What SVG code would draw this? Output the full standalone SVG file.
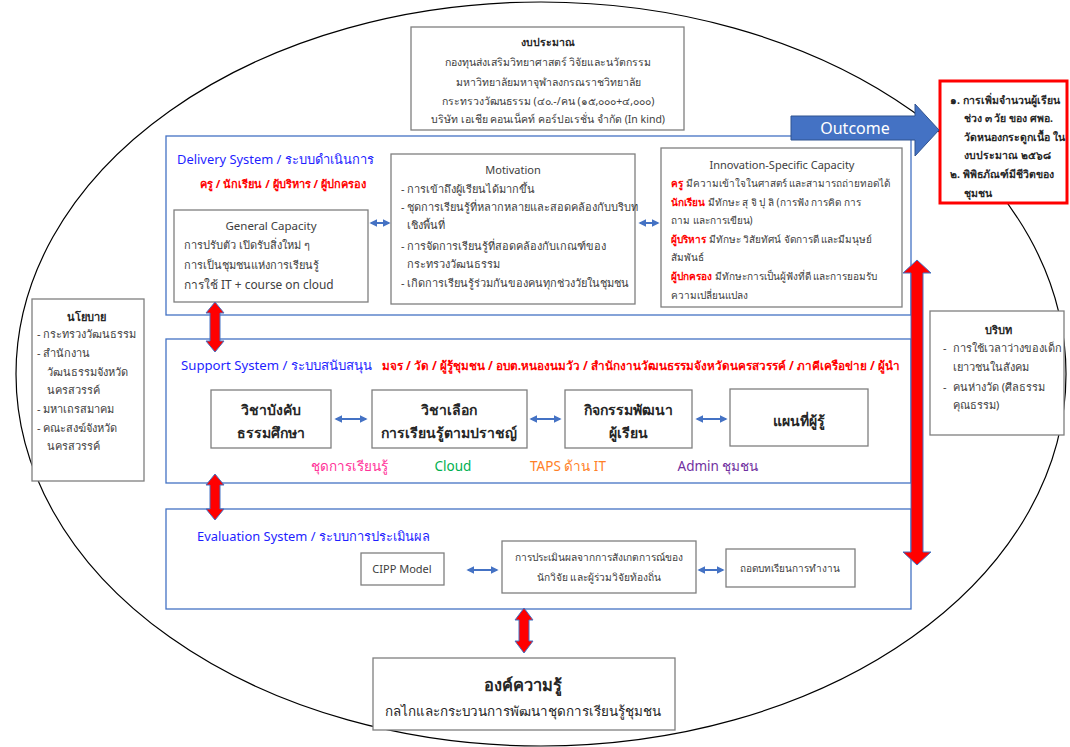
<svg xmlns="http://www.w3.org/2000/svg" width="1070" height="747" viewBox="0 0 1070 747">
<defs>
<style>
text{font-family:"Noto Sans","DejaVu Sans",sans-serif;fill:#404040;font-size:11px}
.box{fill:#fff;stroke:#7f7f7f;stroke-width:1.3}
.sys{fill:#fff;stroke:#4472c4;stroke-width:1.3}
.c{text-anchor:middle}
.b{font-weight:bold}
.blue{fill:#1f1fff;font-size:12.9px}
.red{fill:#ff0000;font-weight:bold}
.dk{fill:#262626}
.sb{font-size:14px;font-weight:bold;fill:#262626;text-anchor:middle}
.lb{font-size:13.5px;text-anchor:middle}
.bu{font-size:10.5px;text-anchor:middle}
.inn{font-size:10px}
.oc{font-size:10.5px;font-weight:bold;fill:#262626}
.bl{stroke:#4472c4;stroke-width:2;fill:none;marker-start:url(#ah);marker-end:url(#ah)}
.ra{fill:#ff0000;stroke:#4472c4;stroke-width:1}
</style>
<marker id="ah" viewBox="0 0 10 10" refX="8" refY="5" markerWidth="4" markerHeight="4" orient="auto-start-reverse"><path d="M0,0L10,5L0,10z" fill="#4472c4"/></marker>
</defs>
<rect width="1070" height="747" fill="#fff"/>
<ellipse id="frame" cx="541" cy="374" rx="525" ry="372" fill="none" stroke="#000" stroke-width="1.2"/>

<g id="budget">
<rect class="box" x="411" y="27" width="273" height="103"/>
<text class="bu b dk" x="548" y="46">งบประมาณ</text>
<text class="bu" x="548" y="66">กองทุนส่งเสริมวิทยาศาสตร์ วิจัยและนวัตกรรม</text>
<text class="bu" x="548" y="86">มหาวิทยาลัยมหาจุฬาลงกรณราชวิทยาลัย</text>
<text class="bu" x="548" y="105">กระทรวงวัฒนธรรม (๔๐.-/คน (๑๕,๐๐๐+๔,๐๐๐)</text>
<text class="bu" x="548" y="123">บริษัท เอเชีย คอนเน็คท์ คอร์ปอเรชั่น จำกัด (In kind)</text>
</g>

<g id="delivery">
<rect class="sys" x="166" y="136" width="745" height="179"/>
<text class="blue" x="177" y="164">Delivery System / ระบบดำเนินการ</text>
<text class="red" x="200" y="188">ครู / นักเรียน / ผู้บริหาร / ผู้ปกครอง</text>
</g>
<g id="general">
<rect class="box" x="174" y="210" width="194" height="92"/>
<text class="c" x="271" y="230" style="font-size:11.5px">General Capacity</text>
<text x="184" y="249">การปรับตัว เปิดรับสิ่งใหม่ ๆ</text>
<text x="184" y="269">การเป็นชุมชนแห่งการเรียนรู้</text>
<text x="184" y="289" style="font-size:11.9px">การใช้ IT + course on cloud</text>
</g>
<g id="motivation">
<rect class="box" x="391" y="154" width="244" height="150"/>
<text class="c" x="513" y="174">Motivation</text>
<text x="401" y="193">- การเข้าถึงผู้เรียนได้มากขึ้น</text>
<text x="401" y="211">- ชุดการเรียนรู้ที่หลากหลายและสอดคล้องกับบริบท</text>
<text x="407" y="229">เชิงพื้นที่</text>
<text x="401" y="250">- การจัดการเรียนรู้ที่สอดคล้องกับเกณฑ์ของ</text>
<text x="407" y="268">กระทรวงวัฒนธรรม</text>
<text x="401" y="287">- เกิดการเรียนรู้ร่วมกันของคนทุกช่วงวัยในชุมชน</text>
</g>
<g id="innovation">
<rect class="box" x="661" y="148" width="241" height="159"/>
<text class="c" x="782" y="169">Innovation-Specific Capacity</text>
<text class="inn" x="671" y="187"><tspan class="red">ครู</tspan> มีความเข้าใจในศาสตร์ และสามารถถ่ายทอดได้</text>
<text class="inn" x="671" y="206"><tspan class="red">นักเรียน</tspan> มีทักษะ สุ จิ ปุ ลิ  (การฟัง การคิด การ</text>
<text class="inn" x="671" y="224">ถาม และการเขียน)</text>
<text class="inn" x="671" y="243"><tspan class="red">ผู้บริหาร</tspan> มีทักษะ วิสัยทัศน์ จัดการดี และมีมนุษย์</text>
<text class="inn" x="671" y="261">สัมพันธ์</text>
<text class="inn" x="671" y="280"><tspan class="red">ผู้ปกครอง</tspan> มีทักษะการเป็นผู้ฟังที่ดี และการยอมรับ</text>
<text class="inn" x="671" y="299">ความเปลี่ยนแปลง</text>
</g>

<g id="support">
<rect class="sys" x="166" y="339" width="745" height="144"/>
<text class="blue" x="181" y="370" style="font-size:13.2px">Support System / ระบบสนับสนุน</text>
<text class="red" x="382" y="370" style="font-size:11.7px">มจร / วัด / ผู้รู้ชุมชน / อบต.หนองนมวัว / สำนักงานวัฒนธรรมจังหวัดนครสวรรค์ / ภาคีเครือข่าย / ผู้นำ</text>
</g>
<g id="s1"><rect class="box" x="211" y="390" width="120" height="58"/>
<text class="sb" x="271" y="415">วิชาบังคับ</text>
<text class="sb" x="271" y="438">ธรรมศึกษา</text></g>
<g id="s2"><rect class="box" x="372" y="390" width="155" height="58"/>
<text class="sb" x="449" y="415">วิชาเลือก</text>
<text class="sb" x="449" y="438">การเรียนรู้ตามปราชญ์</text></g>
<g id="s3"><rect class="box" x="565" y="390" width="127" height="58"/>
<text class="sb" x="628" y="415">กิจกรรมพัฒนา</text>
<text class="sb" x="628" y="438">ผู้เรียน</text></g>
<g id="s4"><rect class="box" x="730" y="389" width="138" height="57"/>
<text class="sb" x="799" y="426">แผนที่ผู้รู้</text></g>
<g id="support-labels">
<text class="lb" x="349" y="471" style="fill:#ff3399">ชุดการเรียนรู้</text>
<text class="lb" x="453" y="471" style="fill:#00b050">Cloud</text>
<text class="lb" x="568" y="471" style="fill:#ff7f27">TAPS ด้าน IT</text>
<text class="lb" x="718" y="471" style="fill:#7030a0">Admin ชุมชน</text>
</g>

<g id="evaluation">
<rect class="sys" x="166" y="509" width="745" height="100"/>
<text class="blue" x="197" y="541">Evaluation System / ระบบการประเมินผล</text>
</g>
<g id="cipp"><rect class="box" x="361" y="553" width="83" height="32"/>
<text class="c" x="402" y="573">CIPP Model</text></g>
<g id="observe"><rect class="box" x="502" y="541" width="194" height="52"/>
<text class="c" x="599" y="561" style="font-size:10.2px">การประเมินผลจากการสังเกตการณ์ของ</text>
<text class="c" x="599" y="581" style="font-size:10.2px">นักวิจัย และผู้ร่วมวิจัยท้องถิ่น</text></g>
<g id="lesson"><rect class="box" x="726" y="549" width="129" height="38"/>
<text class="c" x="790" y="572" style="font-size:10px">ถอดบทเรียนการทำงาน</text></g>

<g id="policy"><rect class="box" x="32" y="299" width="112" height="182"/>
<text class="c b dk" x="86" y="321">นโยบาย</text>
<text x="37" y="338">- กระทรวงวัฒนธรรม</text>
<text x="37" y="357">- สำนักงาน</text>
<text x="47" y="376">วัฒนธรรมจังหวัด</text>
<text x="47" y="394">นครสวรรค์</text>
<text x="37" y="413">- มหาเถรสมาคม</text>
<text x="37" y="432">- คณะสงฆ์จังหวัด</text>
<text x="47" y="450">นครสวรรค์</text></g>

<g id="context"><rect class="box" x="930" y="311" width="134" height="124"/>
<text class="c b dk" x="998" y="334">บริบท</text>
<text x="943" y="352">-</text><text x="953" y="352">การใช้เวลาว่างของเด็ก</text>
<text x="953" y="371">เยาวชนในสังคม</text>
<text x="943" y="391">-</text><text x="953" y="391">คนห่างวัด (ศีลธรรม</text>
<text x="953" y="409">คุณธรรม)</text></g>

<g id="knowledge"><rect class="box" x="373" y="658" width="302" height="72"/>
<text class="c b dk" x="523" y="691" style="font-size:16.4px">องค์ความรู้</text>
<text class="c dk" x="523" y="716" style="font-size:13.4px">กลไกและกระบวนการพัฒนาชุดการเรียนรู้ชุมชน</text></g>

<g id="outcome-box"><rect x="940" y="81" width="127" height="122" fill="#fff" stroke="#ff0000" stroke-width="3"/>
<text class="oc" x="950" y="104">๑. การเพิ่มจำนวนผู้เรียน</text>
<text class="oc" x="964" y="122">ช่วง ๓ วัย ของ ศพอ.</text>
<text class="oc" x="964" y="141">วัดหนองกระดูกเนื้อ ใน</text>
<text class="oc" x="964" y="159">งบประมาณ ๒๕๖๘</text>
<text class="oc" x="950" y="178">๒. พิพิธภัณฑ์มีชีวิตของ</text>
<text class="oc" x="964" y="197">ชุมชน</text></g>

<g id="connectors">
<path d="M791,116H915V104L939,130L915,156V140H791Z" fill="#4472c4" stroke="#2f528f" stroke-width="1"/>
<text class="c" x="855" y="134" style="font-size:16px;fill:#fff">Outcome</text>
<line class="bl" x1="371" y1="223" x2="389" y2="223"/>
<line class="bl" x1="640" y1="223" x2="658" y2="223"/>
<line class="bl" x1="336" y1="419" x2="366" y2="419"/>
<line class="bl" x1="531" y1="419" x2="560" y2="419"/>
<line class="bl" x1="697" y1="419" x2="726" y2="419"/>
<line class="bl" x1="468" y1="570" x2="497" y2="570"/>
<line class="bl" x1="699" y1="570" x2="723" y2="570"/>
<path class="ra" d="M917,260L931,273H923V552H931L917,565L903,552H911V273H903Z"/>
<path class="ra" d="M215,302L224,313H220V341H224L215,352L206,341H210V313H206Z"/>
<path class="ra" d="M215,474L224,485H220V509H224L215,520L206,509H210V485H206Z"/>
<path class="ra" d="M524,608L533,620H529V641H533L524,653L515,641H519V620H515Z"/>
</g>
</svg>
